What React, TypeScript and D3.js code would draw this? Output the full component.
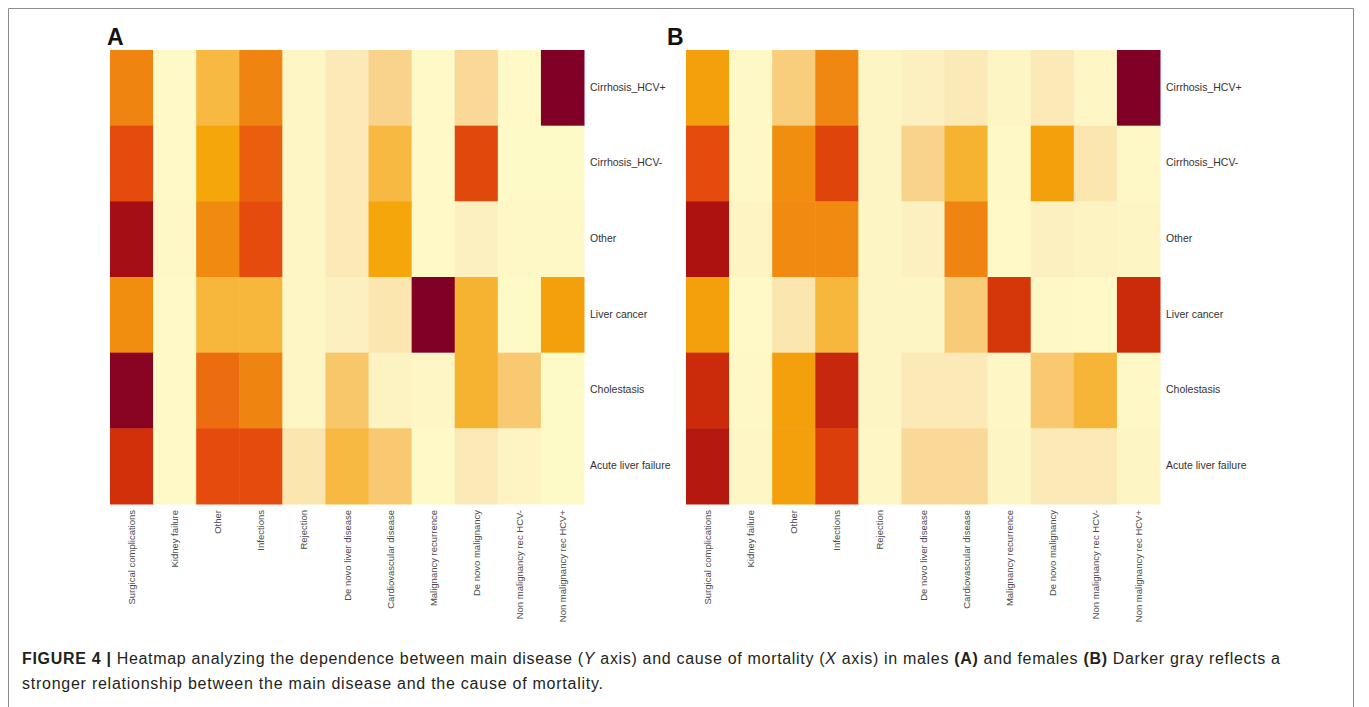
import React from "react";
import * as d3 from "d3";

// Causes of mortality (X axis)
const causes = [
  "Surgical complications",
  "Kidney failure",
  "Other",
  "Infections",
  "Rejection",
  "De novo liver disease",
  "Cardiovascular disease",
  "Malignancy recurrence",
  "De novo malignancy",
  "Non malignancy rec HCV-",
  "Non malignancy rec HCV+",
];

// Main disease (Y axis)
const diseases = [
  "Cirrhosis_HCV+",
  "Cirrhosis_HCV-",
  "Other",
  "Liver cancer",
  "Cholestasis",
  "Acute liver failure",
];

// Panel A (males): relative strength, rows follow `diseases`, columns follow `causes`
const malesValues = [
  [0.55, 0.03, 0.33, 0.55, 0.05, 0.12, 0.22, 0.03, 0.2, 0.03, 1.0],
  [0.72, 0.03, 0.42, 0.66, 0.05, 0.12, 0.33, 0.03, 0.73, 0.02, 0.02],
  [0.92, 0.04, 0.53, 0.72, 0.05, 0.12, 0.42, 0.03, 0.1, 0.04, 0.04],
  [0.52, 0.03, 0.34, 0.34, 0.05, 0.1, 0.14, 1.0, 0.36, 0.02, 0.45],
  [0.98, 0.03, 0.62, 0.55, 0.05, 0.27, 0.08, 0.05, 0.36, 0.26, 0.02],
  [0.8, 0.03, 0.72, 0.72, 0.14, 0.33, 0.26, 0.03, 0.12, 0.07, 0.02],
];

// Panel B (females)
const femalesValues = [
  [0.45, 0.04, 0.24, 0.54, 0.06, 0.1, 0.12, 0.06, 0.12, 0.05, 1.0],
  [0.72, 0.04, 0.52, 0.74, 0.06, 0.22, 0.36, 0.04, 0.45, 0.14, 0.04],
  [0.9, 0.07, 0.53, 0.53, 0.06, 0.1, 0.55, 0.03, 0.1, 0.08, 0.06],
  [0.45, 0.03, 0.14, 0.34, 0.06, 0.06, 0.25, 0.78, 0.04, 0.03, 0.82],
  [0.82, 0.04, 0.45, 0.83, 0.06, 0.12, 0.12, 0.05, 0.26, 0.35, 0.04],
  [0.88, 0.05, 0.45, 0.76, 0.05, 0.2, 0.2, 0.06, 0.12, 0.12, 0.06],
];

const colorStops = [0, 0.1, 0.2, 0.3, 0.42, 0.5, 0.58, 0.7, 0.8, 0.9, 1.0];
const colorRange = [
  "#FFFDCA",
  "#FCEFC0",
  "#F9D898",
  "#F7BF55",
  "#F5A60A",
  "#F29410",
  "#EE7A10",
  "#E8520C",
  "#D2300A",
  "#AE1210",
  "#800026",
];

const color = d3
  .scaleLinear<string>()
  .domain(colorStops)
  .range(colorRange)
  .interpolate(d3.interpolateRgb)
  .clamp(true);

const FONT = "'Liberation Sans', Arial, Helvetica, sans-serif";

type PanelProps = {
  letter: string;
  letterX: number;
  left: number;
  values: number[][];
};

const top = 50;
const bottom = 504;
const heatWidth = 474;

function Panel({ letter, letterX, left, values }: PanelProps) {
  const x = d3.scaleBand<string>().domain(causes).range([left, left + heatWidth]);
  const y = d3.scaleBand<string>().domain(diseases).range([top, bottom]);
  return (
    <g>
      <text
        x={letterX}
        y={45}
        fontFamily={FONT}
        fontWeight="bold"
        fontSize={23}
        fill="#111"
      >
        {letter}
      </text>
      {diseases.map((d, i) =>
        causes.map((c, j) => (
          <rect
            key={`${i}-${j}`}
            x={x(c)!}
            y={y(d)!}
            width={x.bandwidth() + 0.5}
            height={y.bandwidth() + 0.5}
            fill={color(values[i][j])}
          />
        ))
      )}
      {diseases.map((d) => (
        <text
          key={d}
          x={left + heatWidth + 6}
          y={y(d)! + y.bandwidth() / 2}
          dominantBaseline="middle"
          fontFamily={FONT}
          fontSize={10.5}
          fill="#333"
        >
          {d}
        </text>
      ))}
      {causes.map((c) => {
        const cx = x(c)! + x.bandwidth() / 2 + 3.5;
        const cy = 510;
        return (
          <text
            key={c}
            transform={`translate(${cx},${cy}) rotate(-90)`}
            textAnchor="end"
            fontFamily={FONT}
            fontSize={9.5}
            fill="#4a4a4a"
          >
            {c}
          </text>
        );
      })}
    </g>
  );
}

export default function App() {
  const W = 1369;
  const H = 707;
  return (
    <div style={{ position: "absolute", left: 0, top: 0, background: "#fff" }}>
      <svg width={W} height={H} style={{ display: "block" }}>
        <rect x={0} y={0} width={W} height={H} fill="#fff" />
        <path
          d={`M8.5,${H + 5} V8.5 H1353.5 V${H + 5}`}
          fill="none"
          stroke="#8c8c8c"
          strokeWidth={1}
        />
        <Panel letter="A" letterX={107} left={110} values={malesValues} />
        <Panel letter="B" letterX={667} left={686} values={femalesValues} />
        <text
          x={22}
          y={664}
          fontFamily={FONT}
          fontSize={16}
          fill="#231f20"
          textLength={1258}
          lengthAdjust="spacing"
          style={{ whiteSpace: "pre" }}
        >
          <tspan fontWeight="bold">FIGURE 4 |</tspan>
          <tspan> Heatmap analyzing the dependence between main disease (</tspan>
          <tspan fontStyle="italic">Y</tspan>
          <tspan> axis) and cause of mortality (</tspan>
          <tspan fontStyle="italic">X</tspan>
          <tspan> axis) in males </tspan>
          <tspan fontWeight="bold">(A)</tspan>
          <tspan> and females </tspan>
          <tspan fontWeight="bold">(B)</tspan>
          <tspan> Darker gray reflects a</tspan>
        </text>
        <text
          x={22}
          y={689}
          fontFamily={FONT}
          fontSize={16}
          fill="#231f20"
          textLength={581}
          lengthAdjust="spacing"
        >
          stronger relationship between the main disease and the cause of mortality.
        </text>
      </svg>
    </div>
  );
}
